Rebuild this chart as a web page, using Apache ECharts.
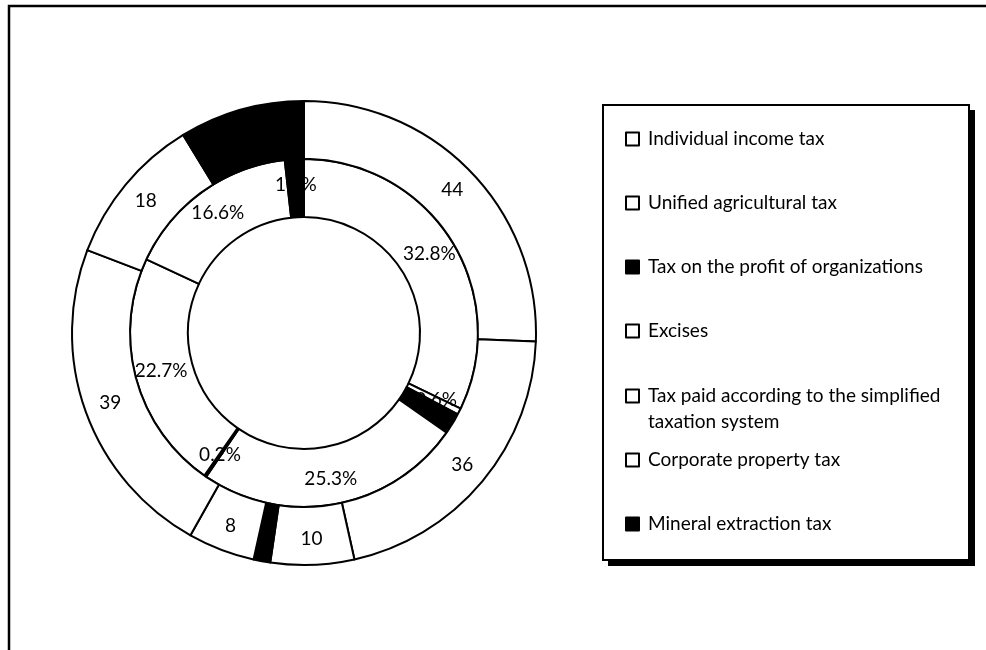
<!DOCTYPE html>
<html><head><meta charset="utf-8">
<script src="https://cdn.jsdelivr.net/npm/echarts@6/dist/echarts.min.js"></script>
<style>html,body{margin:0;padding:0;background:#fff}#c{width:986px;height:650px}</style>
</head><body><div id="c"></div>
<script>
// ---- data ----
const legendNames = ['Individual income tax','Unified agricultural tax','Tax on the profit of organizations','Excises','Tax paid according to the simplified taxation system','Corporate property tax','Mineral extraction tax'];
const innerNames = ['Individual income tax','Unified agricultural tax','Tax on the profit of organizations','Excises','Mineral extraction tax','Tax paid according to the simplified taxation system','Corporate property tax','Mineral extraction tax'];
const innerValues = [32.8, 0.6, 2.0, 25.3, 0.2, 22.7, 16.6, 1.8];
const outerNames = ['Individual income tax','Excises','Unified agricultural tax','Tax on the profit of organizations','Corporate property tax','Tax paid according to the simplified taxation system','Corporate property tax','Mineral extraction tax'];
const outerValues = [44, 36, 10, 2, 8, 39, 18, 15];

// ---- styles ----
const legendFill = ['#fff','#fff','#000','#fff','#fff','#fff','#000'];
const innerFill = ['#fff','#fff','#000','#fff','#000','#fff','#fff','#000'];
const outerFill = ['#fff','#fff','#fff','#000','#fff','#fff','#fff','#000'];
const innerLabelShown = [true,true,false,true,true,true,true,true];
const outerLabelShown = [true,true,true,false,true,true,true,false];
const FONT = 'Lato';
const FS = 19;

const chart = echarts.init(document.getElementById('c'), null, {renderer:'canvas'});

function mkLegend(idxs, top, fmt) {
  return {
    orient:'vertical', left:625, top:top, padding:0, itemGap:38,
    itemWidth:13, itemHeight:13, icon:'rect', selectedMode:false,
    data: idxs.map(i => ({name: legendNames[i], itemStyle:{color: legendFill[i], borderColor:'#000', borderWidth:2}})),
    formatter: fmt || (n => n),
    textStyle:{fontFamily:FONT, fontSize:FS, color:'#000', lineHeight:26, padding:[0,0,0,4]}
  };
}

function mkData(names, values, fills, shown) {
  return values.map((v, i) => ({
    name: names[i], value: v,
    itemStyle:{color: fills[i]},
    label:{show: shown[i]}
  }));
}

const common = {
  type:'pie', center:[304,333], startAngle:90, clockwise:true,
  silent:true, animation:false,
  itemStyle:{borderColor:'#000', borderWidth:2},
  labelLine:{show:false},
  emphasis:{disabled:true}
};

chart.setOption({
  backgroundColor:'#fff',
  animation:false,
  legend:[
    mkLegend([0,1,2,3], 126),
    mkLegend([4], 357, n => '\n' + n.replace(' simplified ', ' simplified\n')),
    mkLegend([5,6], 447)
  ],
  graphic:[
    {type:'rect', z:0, shape:{x:608, y:110, width:367, height:456},
     style:{fill:'#000', stroke:null}},
    {type:'rect', z:1, shape:{x:603, y:105, width:366, height:455},
     style:{fill:'#fff', stroke:'#000', lineWidth:2}},
    {type:'rect', z:100, shape:{x:9, y:6, width:1000, height:700},
     style:{fill:null, stroke:'#000', lineWidth:2.5}}
  ],
  series:[
    Object.assign({}, common, {
      name:'inner', radius:[116,174],
      label:{show:true, position:'inside', rotate:0, formatter:'{c}%', fontFamily:FONT, fontSize:FS, color:'#000'},
      data: mkData(innerNames, innerValues, innerFill, innerLabelShown)
    }),
    Object.assign({}, common, {
      name:'outer', radius:[174,232],
      label:{show:true, position:'inside', rotate:0, formatter:'{c}', fontFamily:FONT, fontSize:FS, color:'#000'},
      data: mkData(outerNames, outerValues, outerFill, outerLabelShown)
    })
  ]
});
</script>
</body></html>
